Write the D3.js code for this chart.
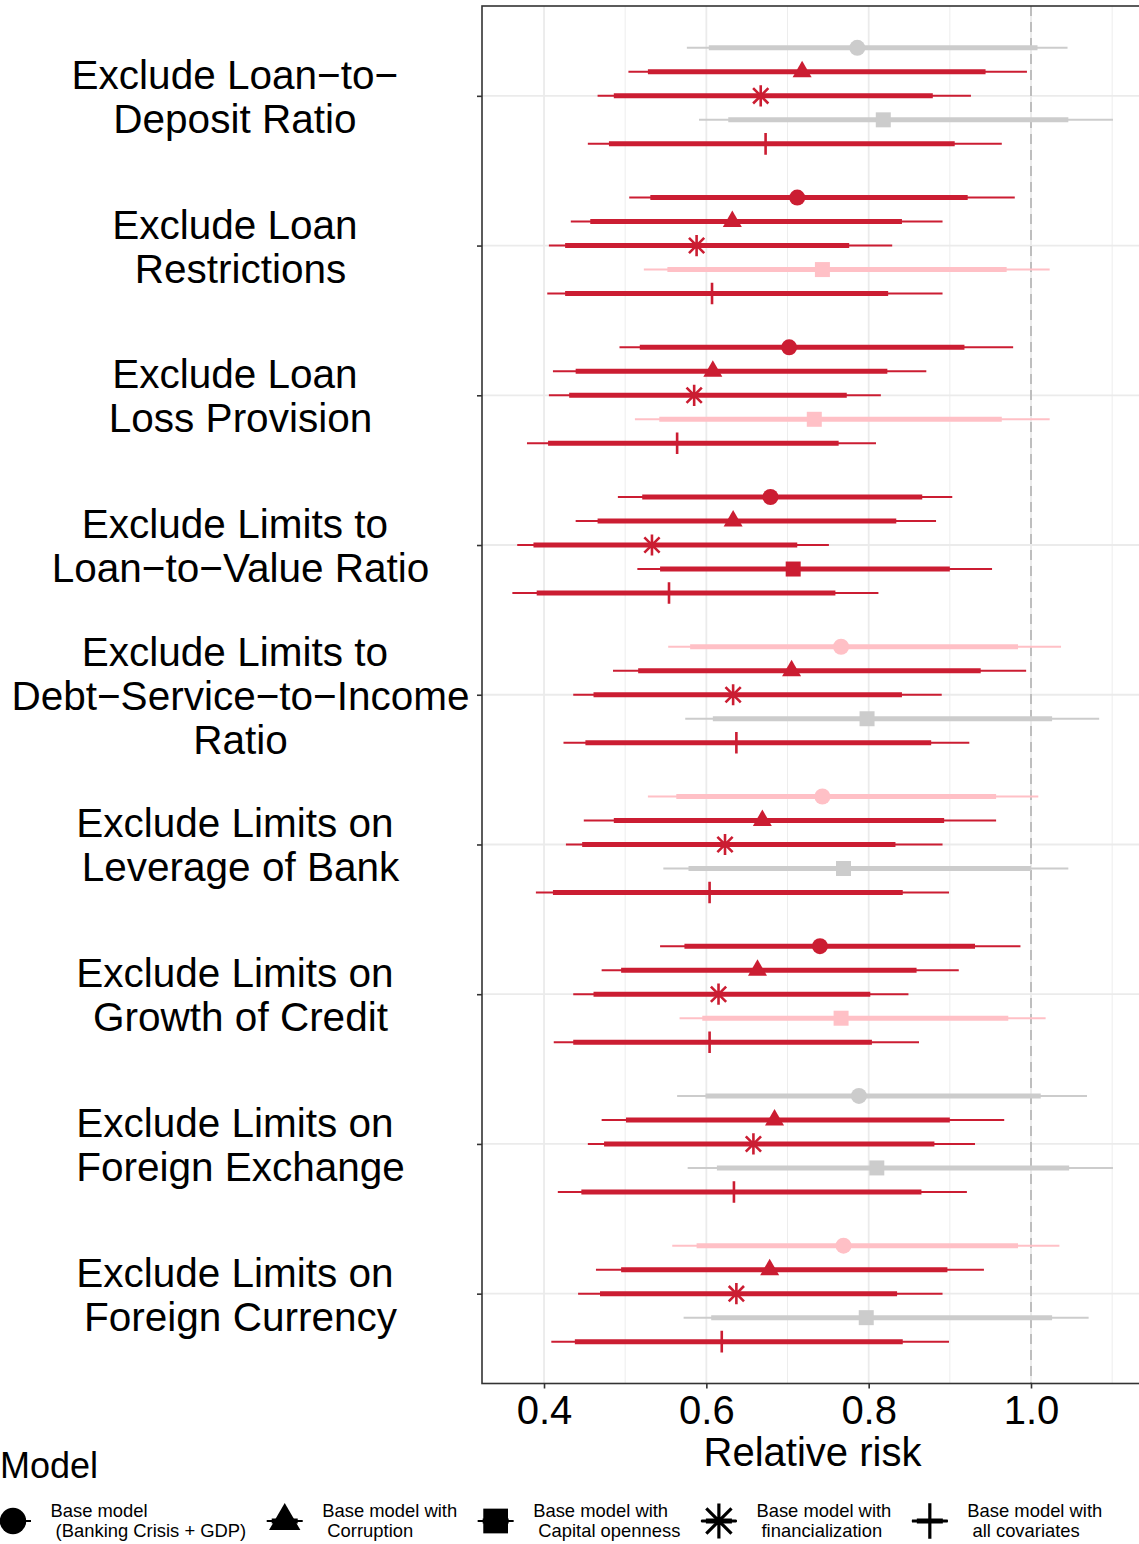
<!DOCTYPE html>
<html>
<head>
<meta charset="utf-8">
<script src="https://cdn.jsdelivr.net/npm/d3@7"></script>
<style>
  body { margin: 0; background: #fff; }
  text { font-family: "Liberation Sans", Arial, Helvetica, sans-serif; }
</style>
</head>
<body>
<div id="chart"></div>
<script>
// ---- data ----
const groupLabels = [
  ["Exclude Loan\u2212to\u2212 ", "Deposit Ratio "],
  ["Exclude Loan ", "Restrictions"],
  ["Exclude Loan ", "Loss Provision"],
  ["Exclude Limits to ", "Loan\u2212to\u2212Value Ratio"],
  ["Exclude Limits to ", "Debt\u2212Service\u2212to\u2212Income", "Ratio"],
  ["Exclude Limits on ", "Leverage of Bank"],
  ["Exclude Limits on ", "Growth of Credit"],
  ["Exclude Limits on ", "Foreign Exchange"],
  ["Exclude Limits on ", "Foreign Currency"]
];

// legend order
const modelKeys = ["base", "corruption", "capital", "financial", "all"];
const modelNames = [
  ["Base model", " (Banking Crisis + GDP)"],
  ["Base model with", " Corruption"],
  ["Base model with", " Capital openness"],
  ["Base model with", " financialization"],
  ["Base model with", " all covariates"]
];
// order of rows inside each group (top to bottom) = column order of the tables below
const rowOrder = ["base", "corruption", "financial", "capital", "all"];

const estimate = [
  [0.786, 0.718, 0.667, 0.818, 0.673],
  [0.712, 0.632, 0.588, 0.743, 0.607],
  [0.702, 0.608, 0.585, 0.733, 0.564],
  [0.679, 0.633, 0.533, 0.707, 0.554],
  [0.766, 0.705, 0.633, 0.798, 0.637],
  [0.743, 0.669, 0.623, 0.769, 0.604],
  [0.740, 0.663, 0.615, 0.766, 0.604],
  [0.788, 0.684, 0.658, 0.810, 0.634],
  [0.769, 0.678, 0.637, 0.797, 0.619]
];
const outerLow = [
  [0.576, 0.504, 0.466, 0.591, 0.454],
  [0.505, 0.433, 0.406, 0.523, 0.404],
  [0.493, 0.411, 0.406, 0.512, 0.379],
  [0.491, 0.439, 0.367, 0.515, 0.361],
  [0.553, 0.485, 0.436, 0.574, 0.424],
  [0.528, 0.449, 0.427, 0.547, 0.390],
  [0.543, 0.471, 0.436, 0.567, 0.412],
  [0.564, 0.471, 0.454, 0.577, 0.417],
  [0.558, 0.464, 0.442, 0.572, 0.409]
];
const outerHigh = [
  [1.045, 0.995, 0.926, 1.101, 0.964],
  [0.980, 0.891, 0.829, 1.023, 0.891],
  [0.978, 0.871, 0.815, 1.023, 0.809],
  [0.903, 0.883, 0.751, 0.952, 0.812],
  [1.037, 0.994, 0.890, 1.084, 0.924],
  [1.009, 0.957, 0.891, 1.046, 0.899],
  [0.987, 0.911, 0.849, 1.018, 0.862],
  [1.069, 0.967, 0.931, 1.101, 0.921],
  [1.035, 0.942, 0.891, 1.071, 0.899]
];
const innerLow = [
  [0.603, 0.528, 0.486, 0.627, 0.480],
  [0.531, 0.457, 0.426, 0.552, 0.426],
  [0.518, 0.439, 0.431, 0.542, 0.405],
  [0.521, 0.466, 0.387, 0.543, 0.391],
  [0.580, 0.516, 0.461, 0.608, 0.451],
  [0.563, 0.486, 0.447, 0.578, 0.411],
  [0.573, 0.495, 0.461, 0.595, 0.436],
  [0.599, 0.501, 0.474, 0.613, 0.446],
  [0.588, 0.495, 0.469, 0.606, 0.438]
];
const innerHigh = [
  [1.008, 0.944, 0.879, 1.046, 0.906],
  [0.922, 0.841, 0.776, 0.970, 0.824],
  [0.918, 0.823, 0.773, 0.964, 0.763],
  [0.866, 0.834, 0.712, 0.900, 0.759],
  [0.984, 0.938, 0.841, 1.026, 0.877],
  [0.957, 0.893, 0.833, 1.000, 0.842],
  [0.931, 0.859, 0.802, 0.972, 0.804],
  [1.012, 0.900, 0.881, 1.047, 0.865],
  [0.984, 0.897, 0.835, 1.026, 0.842]
];
// p05 = significant at 5%, p10 = at 10%, ns = not significant
const significance = [
  ["ns",  "p05", "p05", "ns",  "p05"],
  ["p05", "p05", "p05", "p10", "p05"],
  ["p05", "p05", "p05", "p10", "p05"],
  ["p05", "p05", "p05", "p05", "p05"],
  ["p10", "p05", "p05", "ns",  "p05"],
  ["p10", "p05", "p05", "ns",  "p05"],
  ["p05", "p05", "p05", "p10", "p05"],
  ["ns",  "p05", "p05", "ns",  "p05"],
  ["p10", "p05", "p05", "ns",  "p05"]
];

const majorTicks = [0.4, 0.6, 0.8, 1.0];
const minorTicks = [0.5, 0.7, 0.9, 1.1];

// ---- setup ----
const W = 1139, H = 1544;
const panel = {left: 482, right: 1140.5, top: 6, bottom: 1383.5};

const svg = d3.select("#chart").append("svg")
  .attr("width", W)
  .attr("height", H);

const x = d3.scaleLinear()
  .domain([0.3236, 1.1349])
  .range([panel.left, panel.right]);

const yGroup = d3.scalePoint()
  .domain(d3.range(groupLabels.length))
  .range([panel.top, panel.bottom])
  .padding(0.6);

const yModel = d3.scalePoint()
  .domain(rowOrder)
  .range([-48, 48]);

const color = d3.scaleOrdinal()
  .domain(["p05", "p10", "ns"])
  .range(["#CB1D32", "#FFC0C6", "#CCCCCC"]);

// custom glyphs for asterisk and plus (R pch 8 / pch 3)
function starPath(r) {
  let d = r * 0.72;
  return `M0,${-r}V${r}M${-r},0H${r}M${-d},${-d}L${d},${d}M${-d},${d}L${d},${-d}`;
}
function plusPath(r) {
  return `M0,${-r}V${r}M${-r},0H${r}`;
}
function shapePath(key, k) {
  if (key == "base") return d3.symbol(d3.symbolCircle, Math.PI * 8 * 8 * k * k)();
  if (key == "corruption") return d3.symbol(d3.symbolTriangle, 19 * 19 * Math.sqrt(3) / 4 * k * k)();
  if (key == "capital") return d3.symbol(d3.symbolSquare, 15 * 15 * k * k)();
  if (key == "financial") return starPath(10.6 * k);
  return plusPath(10.8 * k);
}
const isLine = key => key == "financial" || key == "all";

// flatten rows
let rows = [];
groupLabels.forEach((g, i) => {
  rowOrder.forEach((m, j) => {
    rows.push({
      group: i, model: m,
      est: estimate[i][j],
      lo: outerLow[i][j], hi: outerHigh[i][j],
      lo2: innerLow[i][j], hi2: innerHigh[i][j],
      sig: significance[i][j]
    });
  });
});
const rowY = d => yGroup(d.group) + yModel(d.model);

// ---- grid ----
let grid = svg.append("g");
grid.selectAll(".minor")
  .data(minorTicks)
  .enter().append("line")
  .attr("x1", d => x(d)).attr("x2", d => x(d))
  .attr("y1", panel.top).attr("y2", panel.bottom)
  .attr("stroke", "#EBEBEB").attr("stroke-width", 0.9);
grid.selectAll(".major")
  .data(majorTicks)
  .enter().append("line")
  .attr("x1", d => x(d)).attr("x2", d => x(d))
  .attr("y1", panel.top).attr("y2", panel.bottom)
  .attr("stroke", "#EBEBEB").attr("stroke-width", 1.8);
grid.selectAll(".hgrid")
  .data(yGroup.domain())
  .enter().append("line")
  .attr("x1", panel.left).attr("x2", panel.right)
  .attr("y1", d => yGroup(d)).attr("y2", d => yGroup(d))
  .attr("stroke", "#EBEBEB").attr("stroke-width", 1.8);

// reference line at 1
svg.append("line")
  .attr("x1", x(1)).attr("x2", x(1))
  .attr("y1", panel.top).attr("y2", panel.bottom)
  .attr("stroke", "#BEBEBE")
  .attr("stroke-width", 2)
  .attr("stroke-dasharray", "10,6");

// ---- intervals and points ----
let marks = svg.append("g");
rows.forEach(d => {
  let y = rowY(d);
  let c = color(d.sig);
  marks.append("line")
    .attr("x1", x(d.lo)).attr("x2", x(d.hi))
    .attr("y1", y).attr("y2", y)
    .attr("stroke", c).attr("stroke-width", 2);
  marks.append("line")
    .attr("x1", x(d.lo2)).attr("x2", x(d.hi2))
    .attr("y1", y).attr("y2", y)
    .attr("stroke", c).attr("stroke-width", 5);
  marks.append("path")
    .attr("d", shapePath(d.model, 1))
    .attr("transform", `translate(${x(d.est)},${y})`)
    .attr("fill", isLine(d.model) ? "none" : c)
    .attr("stroke", isLine(d.model) ? c : "none")
    .attr("stroke-width", 2.6);
});

// ---- panel border ----
svg.append("rect")
  .attr("x", panel.left).attr("y", panel.top)
  .attr("width", panel.right - panel.left)
  .attr("height", panel.bottom - panel.top)
  .attr("fill", "none")
  .attr("stroke", "#333333")
  .attr("stroke-width", 1.6);

// ---- axes ----
let xAxis = d3.axisBottom(x)
  .tickValues(majorTicks)
  .tickFormat(d3.format(".1f"))
  .tickSize(5)
  .tickPadding(7);
let gx = svg.append("g")
  .attr("transform", `translate(0,${panel.bottom})`)
  .call(xAxis);
gx.select(".domain").remove();
gx.selectAll("line").attr("stroke", "#333333").attr("stroke-width", 1.6);
gx.selectAll("text")
  .attr("fill", "#000")
  .style("font-size", "40px")
  .style("font-family", '"Liberation Sans", Arial, sans-serif');

let yAxis = d3.axisLeft(yGroup)
  .tickSize(5)
  .tickFormat("");
let gy = svg.append("g")
  .attr("transform", `translate(${panel.left},0)`)
  .call(yAxis);
gy.select(".domain").remove();
gy.selectAll("line").attr("stroke", "#333333").attr("stroke-width", 1.6);

// multi-line category labels
let labels = svg.append("g");
groupLabels.forEach((lines, i) => {
  let n = lines.length;
  lines.forEach((t, k) => {
    labels.append("text")
      .attr("x", 240.5)
      .attr("y", yGroup(i) + (k - (n - 1) / 2) * 44 + 15)
      .attr("text-anchor", "middle")
      .style("white-space", "pre")
      .style("font-size", "40.5px")
      .attr("fill", "#000")
      .text(t);
  });
});

// axis title
svg.append("text")
  .attr("x", (panel.left + 1139) / 2 + 2)
  .attr("y", 1466)
  .attr("text-anchor", "middle")
  .style("font-size", "40px")
  .text("Relative risk");

// ---- legend ----
svg.append("text")
  .attr("x", 0)
  .attr("y", 1478)
  .style("font-size", "36px")
  .text("Model");

let legend = svg.append("g");
let keyX = 13;
const keyY = 1521;
const k = 1.65;
modelKeys.forEach((m, j) => {
  legend.append("line")
    .attr("x1", keyX - 18).attr("x2", keyX + 18)
    .attr("y1", keyY).attr("y2", keyY)
    .attr("stroke", "#000").attr("stroke-width", 2);
  legend.append("line")
    .attr("x1", keyX - 13).attr("x2", keyX + 13)
    .attr("y1", keyY).attr("y2", keyY)
    .attr("stroke", "#000").attr("stroke-width", 5);
  legend.append("path")
    .attr("d", shapePath(m, k))
    .attr("transform", `translate(${keyX},${keyY})`)
    .attr("fill", isLine(m) ? "none" : "#000")
    .attr("stroke", isLine(m) ? "#000" : "none")
    .attr("stroke-width", 3.2);
  let tx = keyX + 37.5;
  let maxW = 0;
  modelNames[j].forEach((t, l) => {
    let el = legend.append("text")
      .attr("x", tx)
      .attr("y", 1517 + l * 20)
      .style("white-space", "pre")
      .style("font-size", "18.4px")
      .attr("fill", "#000")
      .text(t);
    maxW = Math.max(maxW, el.node().getComputedTextLength());
  });
  keyX = tx + maxW + 38.5;
});
</script>
</body>
</html>
